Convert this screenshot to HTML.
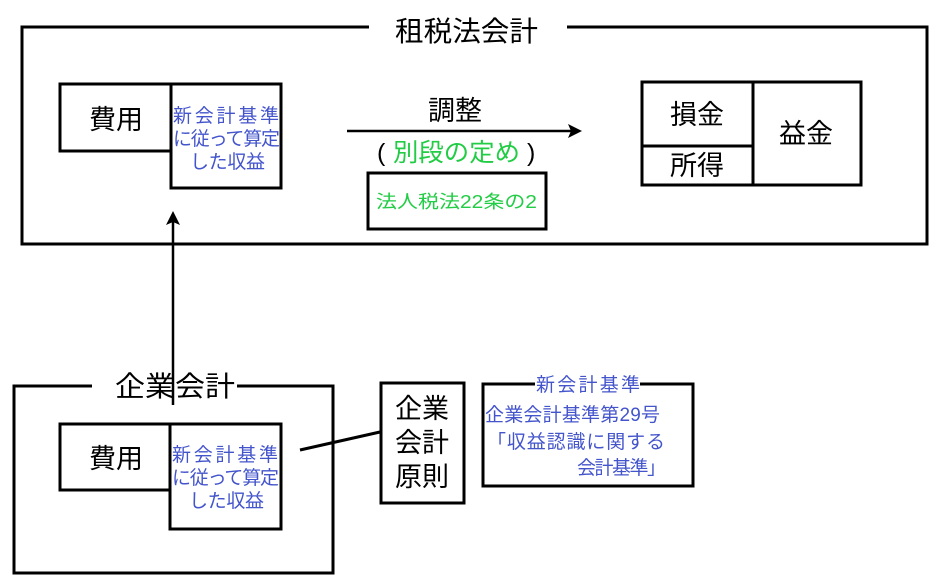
<!DOCTYPE html>
<html><head><meta charset="utf-8"><style>
html,body{margin:0;padding:0;background:#fff;width:942px;height:583px;overflow:hidden}
svg text{font-family:"Liberation Sans","Noto Sans CJK JP",sans-serif}
</style></head><body>
<svg width="942" height="583" viewBox="0 0 942 583" xmlns="http://www.w3.org/2000/svg">
<g fill="none" stroke="#000" stroke-width="3">
<polyline points="369,27 22,27 22,244 927,244 927,27 567,27"/>
<rect x="60" y="84" width="111" height="67"/>
<rect x="171" y="84" width="110" height="104"/>
<rect x="368" y="173" width="178" height="56"/>
<rect x="642" y="82" width="111" height="103"/>
<line x1="642" y1="146" x2="753" y2="146"/>
<rect x="753" y="82" width="108" height="103"/>
<polyline points="92,386 14,386 14,573 333,573 333,386 237,386"/>
<rect x="60" y="424" width="110" height="66"/>
<rect x="170" y="424" width="111" height="105"/>
<rect x="381" y="383" width="83" height="120"/>
<polyline points="535,384 483,384 483,486 693,486 693,384 640,384"/>
<line x1="300" y1="450" x2="380" y2="432"/>
</g>
<g stroke="#000" stroke-width="2.5">
<line x1="347" y1="131" x2="572" y2="131"/>
<line x1="173" y1="405" x2="173" y2="222"/>
</g>
<polygon points="582,131 568,124 571,131 568,138" fill="#000"/>
<polygon points="173,211 166,225 173,222 180,225" fill="#000"/>
<g font-size="28" fill="#000">
<text x="395" y="41" textLength="143" lengthAdjust="spacingAndGlyphs">租税法会計</text>
<text x="115" y="396" textLength="120" lengthAdjust="spacingAndGlyphs">企業会計</text>
</g>
<g font-size="27" fill="#000" text-anchor="middle">
<text x="116" y="129">費用</text>
<text x="116" y="468">費用</text>
<text x="455" y="120">調整</text>
<text x="697" y="124">損金</text>
<text x="697" y="175">所得</text>
<text x="806" y="143">益金</text>
<text x="422" y="418">企業</text>
<text x="422" y="452">会計</text>
<text x="422" y="486">原則</text>
</g>
<text x="377" y="161" font-size="25" fill="#000">(</text>
<text x="393" y="161" font-size="25" fill="#22cc44" textLength="127" lengthAdjust="spacingAndGlyphs">別段の定め</text>
<text x="527" y="161" font-size="25" fill="#000">)</text>
<text x="376" y="208" font-size="18" fill="#22cc44" textLength="161" lengthAdjust="spacingAndGlyphs">法人税法22条の2</text>
<g font-size="19" fill="#4455cc" lengthAdjust="spacingAndGlyphs">
<text x="173" y="122" textLength="106">新会計基準</text>
<text x="173" y="145" textLength="107">に従って算定</text>
<text x="190" y="168" textLength="75">した収益</text>
<text x="172" y="461" textLength="106">新会計基準</text>
<text x="172" y="484" textLength="107">に従って算定</text>
<text x="189" y="507" textLength="75">した収益</text>
<text x="536" y="391" textLength="104">新会計基準</text>
<text x="485" y="421" textLength="175">企業会計基準第29号</text>
<text x="487" y="448" textLength="178">「収益認識に関する</text>
<text x="577" y="474" textLength="89">会計基準」</text>
</g>
</svg>
</body></html>
